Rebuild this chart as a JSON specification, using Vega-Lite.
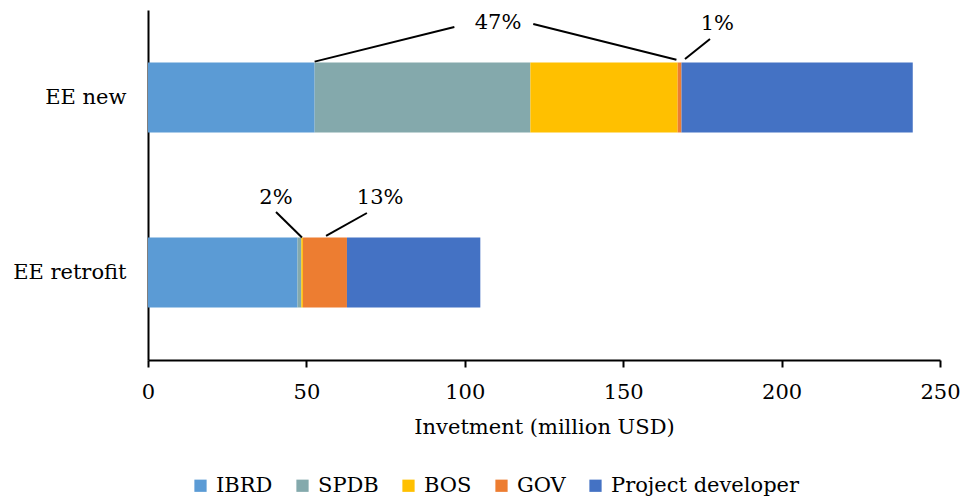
{
  "$schema": "https://vega.github.io/schema/vega-lite/v6.json",
  "width": 792,
  "height": 350,
  "autosize": {"type": "none"},
  "padding": {"left": 148, "top": 10, "right": 22, "bottom": 142},
  "background": "white",
  "config": {
    "view": {"stroke": null},
    "font": "DejaVu Serif",
    "axis": {"grid": false, "labelFont": "DejaVu Serif", "titleFont": "DejaVu Serif"},
    "legend": {"labelFont": "DejaVu Serif"}
  },
  "datasets": {
    "bars": [
      {"cat": "EE new", "src": "IBRD", "val": 52.6, "ord": 1},
      {"cat": "EE new", "src": "SPDB", "val": 68.1, "ord": 2},
      {"cat": "EE new", "src": "BOS", "val": 46.5, "ord": 3},
      {"cat": "EE new", "src": "GOV", "val": 1.2, "ord": 4},
      {"cat": "EE new", "src": "Project developer", "val": 73.0, "ord": 5},
      {"cat": "EE retrofit", "src": "IBRD", "val": 47.2, "ord": 1},
      {"cat": "EE retrofit", "src": "SPDB", "val": 1.2, "ord": 2},
      {"cat": "EE retrofit", "src": "BOS", "val": 0.5, "ord": 3},
      {"cat": "EE retrofit", "src": "GOV", "val": 13.9, "ord": 4},
      {"cat": "EE retrofit", "src": "Project developer", "val": 42.1, "ord": 5}
    ],
    "leaders": [
      {"x1": 52.6, "x2": 96.7, "y1": 0.295, "y2": 0.097},
      {"x1": 121.6, "x2": 166.8, "y1": 0.08, "y2": 0.284},
      {"x1": 177.4, "x2": 169.5, "y1": 0.166, "y2": 0.28},
      {"x1": 40.4, "x2": 48.6, "y1": 1.154, "y2": 1.3},
      {"x1": 69.1, "x2": 56.2, "y1": 1.16, "y2": 1.291}
    ],
    "labels": [
      {"x": 110.5, "y": 0.075, "txt": "47%"},
      {"x": 179.7, "y": 0.08, "txt": "1%"},
      {"x": 40.4, "y": 1.075, "txt": "2%"},
      {"x": 73.3, "y": 1.075, "txt": "13%"}
    ]
  },
  "layer": [
    {
      "data": {"name": "bars"},
      "mark": {"type": "bar"},
      "encoding": {
        "y": {
          "field": "cat", "type": "nominal", "sort": ["EE new", "EE retrofit"],
          "scale": {"paddingInner": 0.6, "paddingOuter": 0.3},
          "axis": {"title": null, "ticks": false, "domainColor": "#000000", "domainWidth": 2, "labelFontSize": 21, "labelColor": "#000000", "labelPadding": 22}
        },
        "x": {
          "field": "val", "type": "quantitative", "aggregate": "sum", "stack": "zero",
          "scale": {"domain": [0, 250], "nice": false},
          "axis": {"title": "Invetment (million USD)", "values": [0, 50, 100, 150, 200, 250], "domainColor": "#000000", "domainWidth": 2, "tickColor": "#000000", "tickWidth": 2, "tickSize": 7, "labelFontSize": 21, "labelColor": "#000000", "labelPadding": 14, "titleFontSize": 21, "titleFontWeight": "normal", "titleColor": "#000000", "titlePadding": 14, "labelFlush": false}
        },
        "color": {
          "field": "src", "type": "nominal",
          "scale": {"domain": ["IBRD", "SPDB", "BOS", "GOV", "Project developer"], "range": ["#5B9BD5", "#84A9AC", "#FFC000", "#ED7D31", "#4472C4"]},
          "legend": {"title": null, "orient": "none", "direction": "horizontal", "legendX": 42, "legendY": 465, "symbolType": "square", "symbolSize": 150, "symbolStrokeWidth": 0, "labelFontSize": 21, "labelColor": "#000000", "labelLimit": 400, "columnPadding": 19, "labelOffset": 5}
        },
        "order": {"field": "ord", "type": "quantitative"}
      }
    },
    {
      "data": {"name": "leaders"},
      "mark": {"type": "rule", "color": "#000000", "strokeWidth": 2},
      "encoding": {
        "x": {"field": "x1", "type": "quantitative"},
        "x2": {"field": "x2"},
        "y": {"field": "y1", "type": "quantitative", "scale": {"domain": [0, 2], "reverse": true, "nice": false, "zero": false}, "axis": null},
        "y2": {"field": "y2"}
      }
    },
    {
      "data": {"name": "labels"},
      "mark": {"type": "text", "fontSize": 21, "color": "#000000", "baseline": "middle", "align": "center"},
      "encoding": {
        "x": {"field": "x", "type": "quantitative"},
        "y": {"field": "y", "type": "quantitative", "scale": {"domain": [0, 2], "reverse": true, "nice": false, "zero": false}, "axis": null},
        "text": {"field": "txt"}
      }
    }
  ],
  "resolve": {"scale": {"y": "independent"}}
}
